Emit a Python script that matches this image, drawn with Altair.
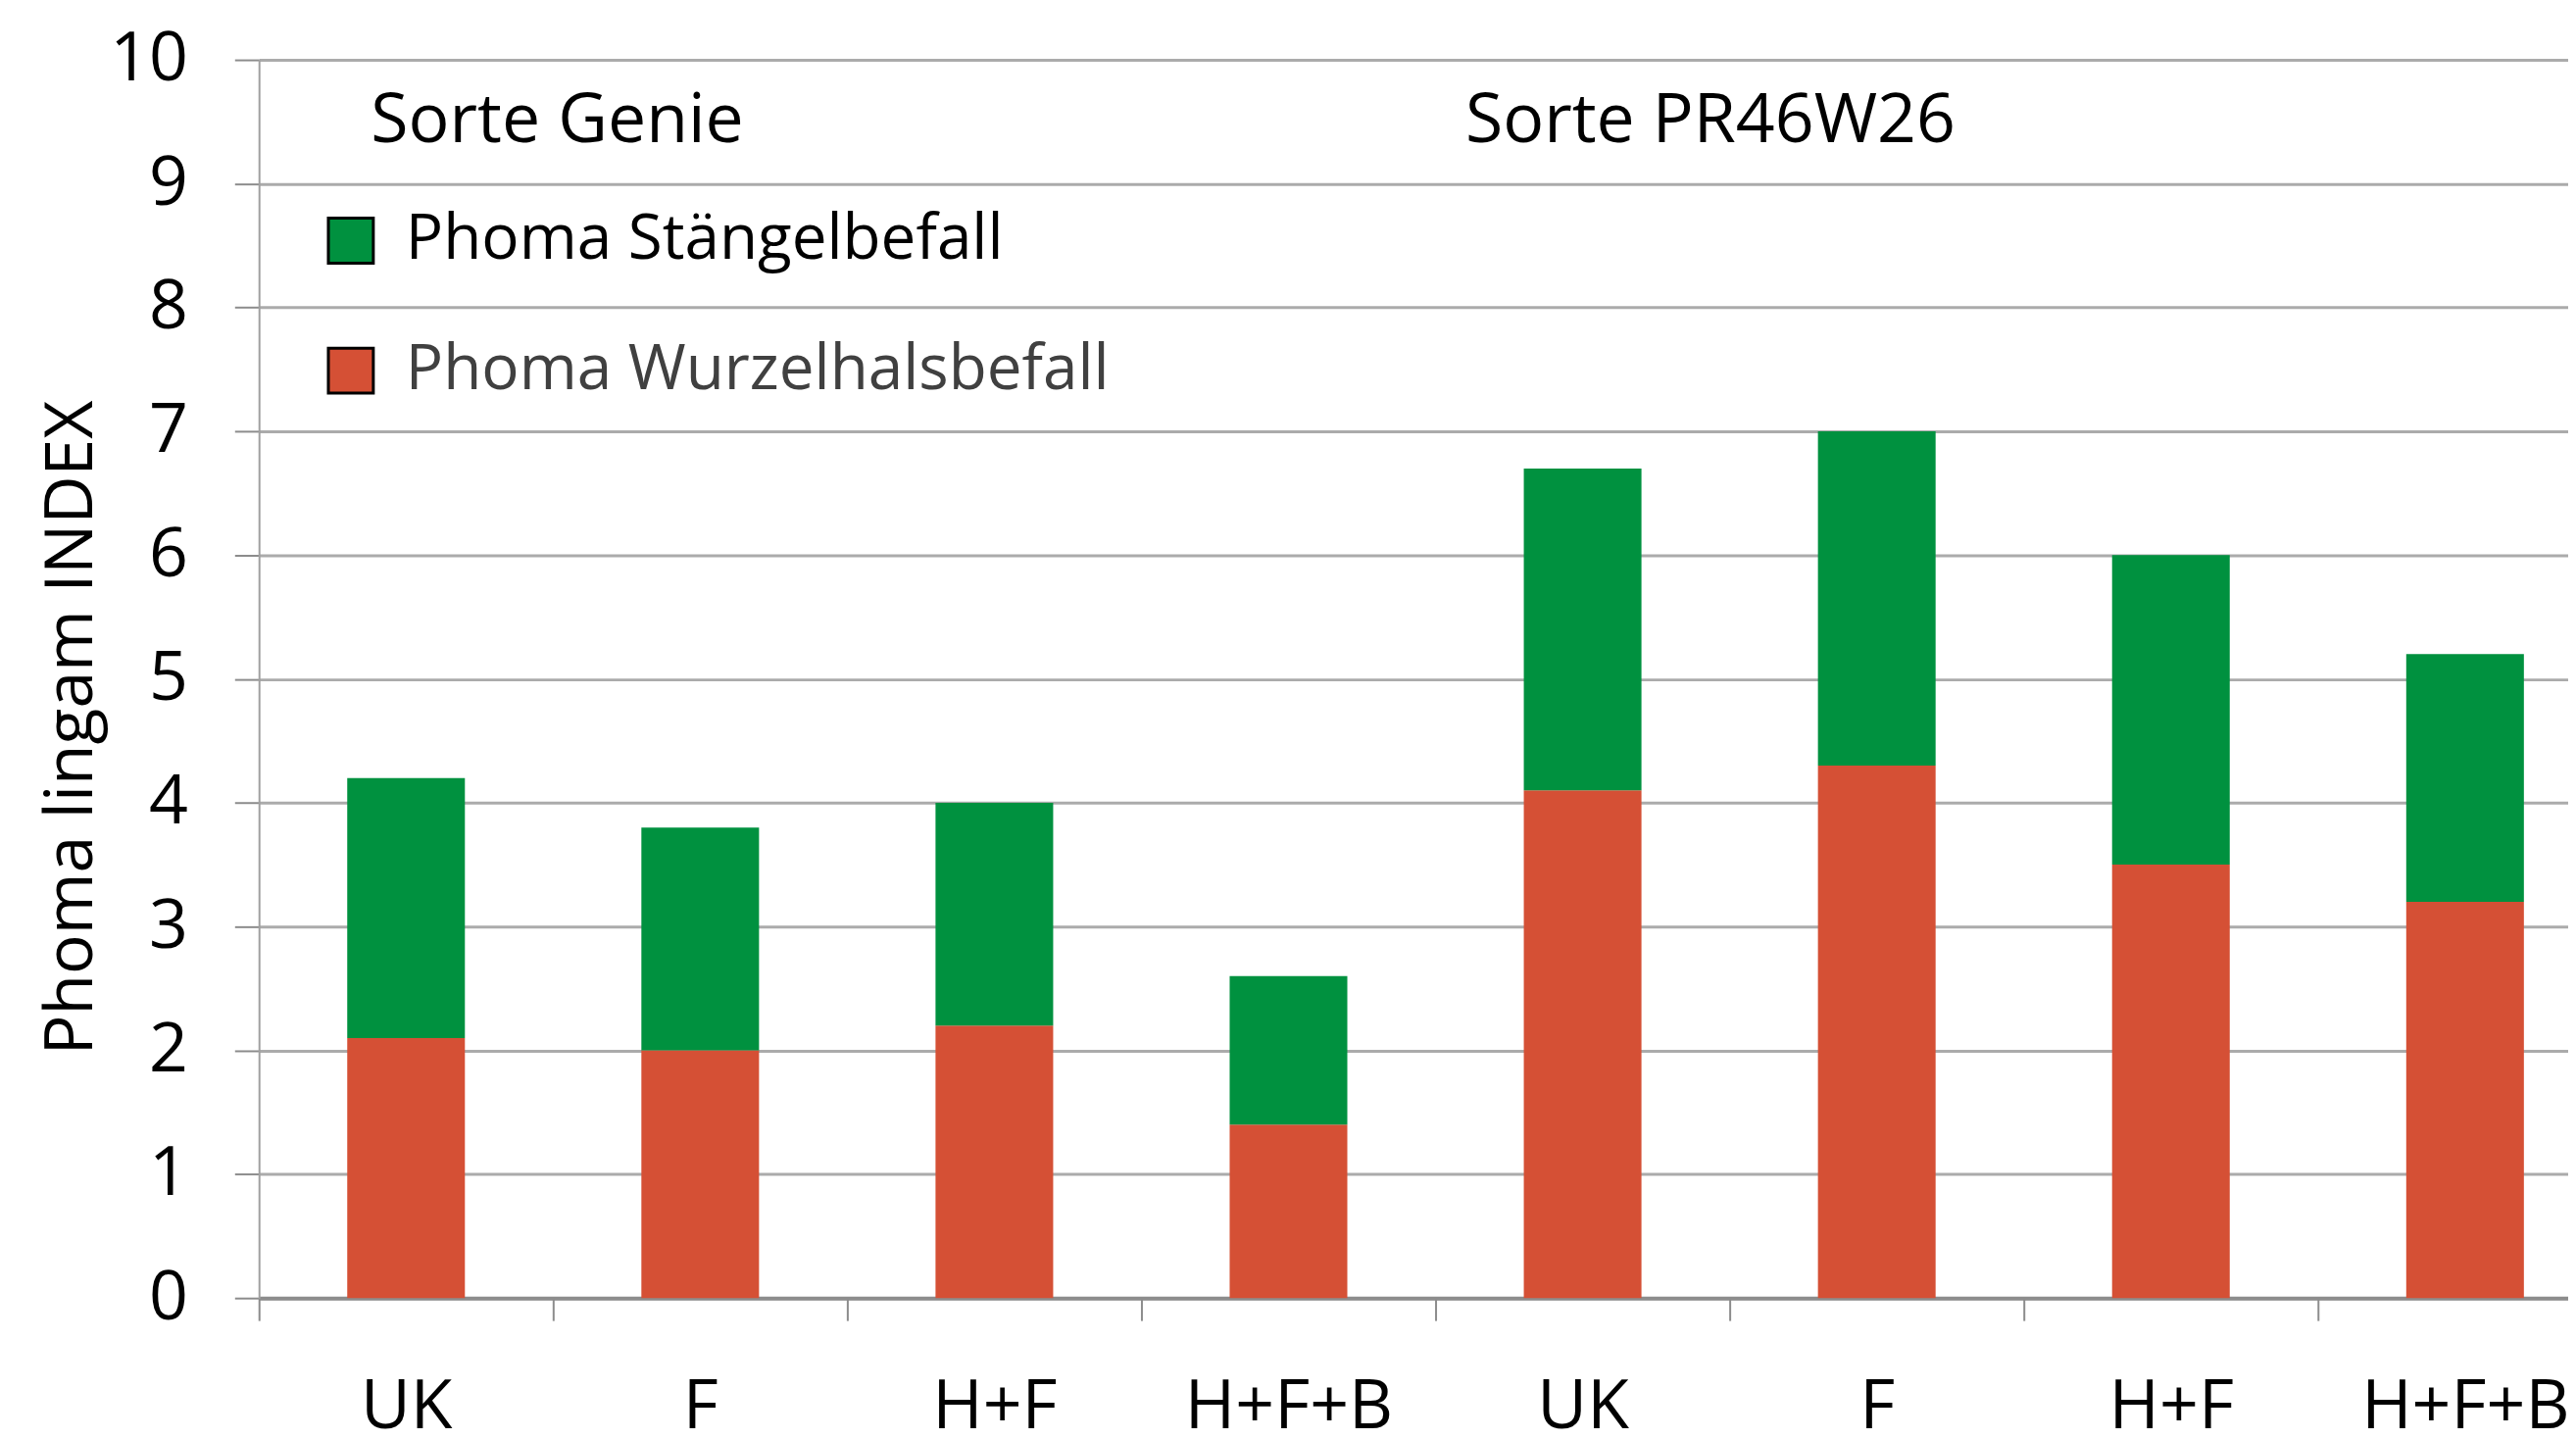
import altair as alt
import pandas as pd

# ---- data ----
cultivars = ["Sorte Genie", "Sorte PR46W26"]
treatments = ["UK", "F", "H+F", "H+F+B", "UK", "F", "H+F", "H+F+B"]
wurzelhals = [2.1, 2.0, 2.2, 1.4, 4.1, 4.3, 3.5, 3.2]
staengel = [2.1, 1.8, 1.8, 1.2, 2.6, 2.7, 2.5, 2.0]
series_names = ["Phoma Stängelbefall", "Phoma Wurzelhalsbefall"]
y_ticks = [0, 1, 2, 3, 4, 5, 6, 7, 8, 9, 10]

keys = [f"{i}|{t}" for i, t in enumerate(treatments)]

rows = []
for k, w, s in zip(keys, wurzelhals, staengel):
    rows.append({"key": k, "series": series_names[1], "value": w, "ord": 0})
    rows.append({"key": k, "series": series_names[0], "value": s, "ord": 1})
df = pd.DataFrame(rows)

GREEN = "#00913F"
RED = "#D55035"
LEGEND_GREEN = "#00B050"
FONT = "Open Sans"

x_scale = alt.Scale(domain=keys, range=[0, 2408], paddingInner=0, paddingOuter=0)
y_scale = alt.Scale(domain=[0, 10], nice=False)

bars = alt.Chart(df).mark_bar(width={"band": 0.4}).encode(
    x=alt.X(
        "key:N",
        sort=keys,
        scale=x_scale,
        axis=alt.Axis(
            title=None,
            labelExpr="split(datum.label, '|')[1]",
            tickBand="extent",
            labelFontSize=70,
            labelFont=FONT,
            labelColor="black",
            labelPadding=55,
            labelAngle=0,
            labelLimit=1000,
            tickSize=23,
            tickColor="#8C8C8C",
            tickWidth=2,
            domainColor="#8C8C8C",
            domainWidth=4,
            grid=False,
        ),
    ),
    y=alt.Y(
        "value:Q",
        stack="zero",
        scale=y_scale,
        axis=alt.Axis(
            title="Phoma lingam INDEX",
            titleFont=FONT,
            titleFontSize=68,
            titleFontWeight="normal",
            titleColor="black",
            titleAngle=-90,
            titleX=-171,
            titleY=683,
            titleBaseline="alphabetic",
            titleAlign="center",
            values=y_ticks,
            format="d",
            labelFontSize=70,
            labelFont=FONT,
            labelColor="black",
            labelPadding=48,
            tickSize=25,
            tickColor="#8C8C8C",
            tickWidth=2,
            domainColor="#A0A0A0",
            domainWidth=2,
            grid=True,
            gridColor="#ABABAB",
            gridWidth=3,
        ),
    ),
    color=alt.Color(
        "series:N",
        scale=alt.Scale(domain=series_names, range=[GREEN, RED]),
        legend=alt.Legend(
            title=None,
            orient="none",
            legendX=62,
            legendY=153,
            padding=0,
            symbolType="square",
            symbolSize=2116,
            symbolStrokeColor="black",
            symbolStrokeWidth=3,
            symbolOpacity=1,
            symbolFillColor={"expr": f"datum.label == '{series_names[0]}' ? '{LEGEND_GREEN}' : '{RED}'"},
            labelFont=FONT,
            labelFontSize=64,
            labelColor={"expr": f"datum.label == '{series_names[1]}' ? '#404040' : 'black'"},
            labelOffset=24,
            labelLimit=1000,
            rowPadding=69,
        ),
    ),
    order=alt.Order("ord:Q"),
)

ann1 = alt.Chart(pd.DataFrame({"key": [keys[0]], "label": [cultivars[0]]})).mark_text(
    align="left", baseline="middle", fontSize=70, font=FONT, color="black", dx=-36
).encode(x=alt.X("key:N", sort=keys, scale=x_scale), y=alt.datum(9.5, scale=y_scale), text="label:N")

ann2 = alt.Chart(pd.DataFrame({"key": [keys[4]], "label": [cultivars[1]]})).mark_text(
    align="left", baseline="middle", fontSize=70, font=FONT, color="black", dx=-120
).encode(x=alt.X("key:N", sort=keys, scale=x_scale), y=alt.datum(9.5), text="label:N")

chart = (
    alt.layer(bars, ann1, ann2)
    .properties(
        width=2363,
        height=1267,
        autosize=alt.AutoSizeParams(type="none"),
        padding={"left": 257, "top": 51, "right": 0, "bottom": 134},
        background="white",
    )
    .configure_view(stroke=None)
)

chart.save("out.html", embed_options={"renderer": "svg", "actions": False})
